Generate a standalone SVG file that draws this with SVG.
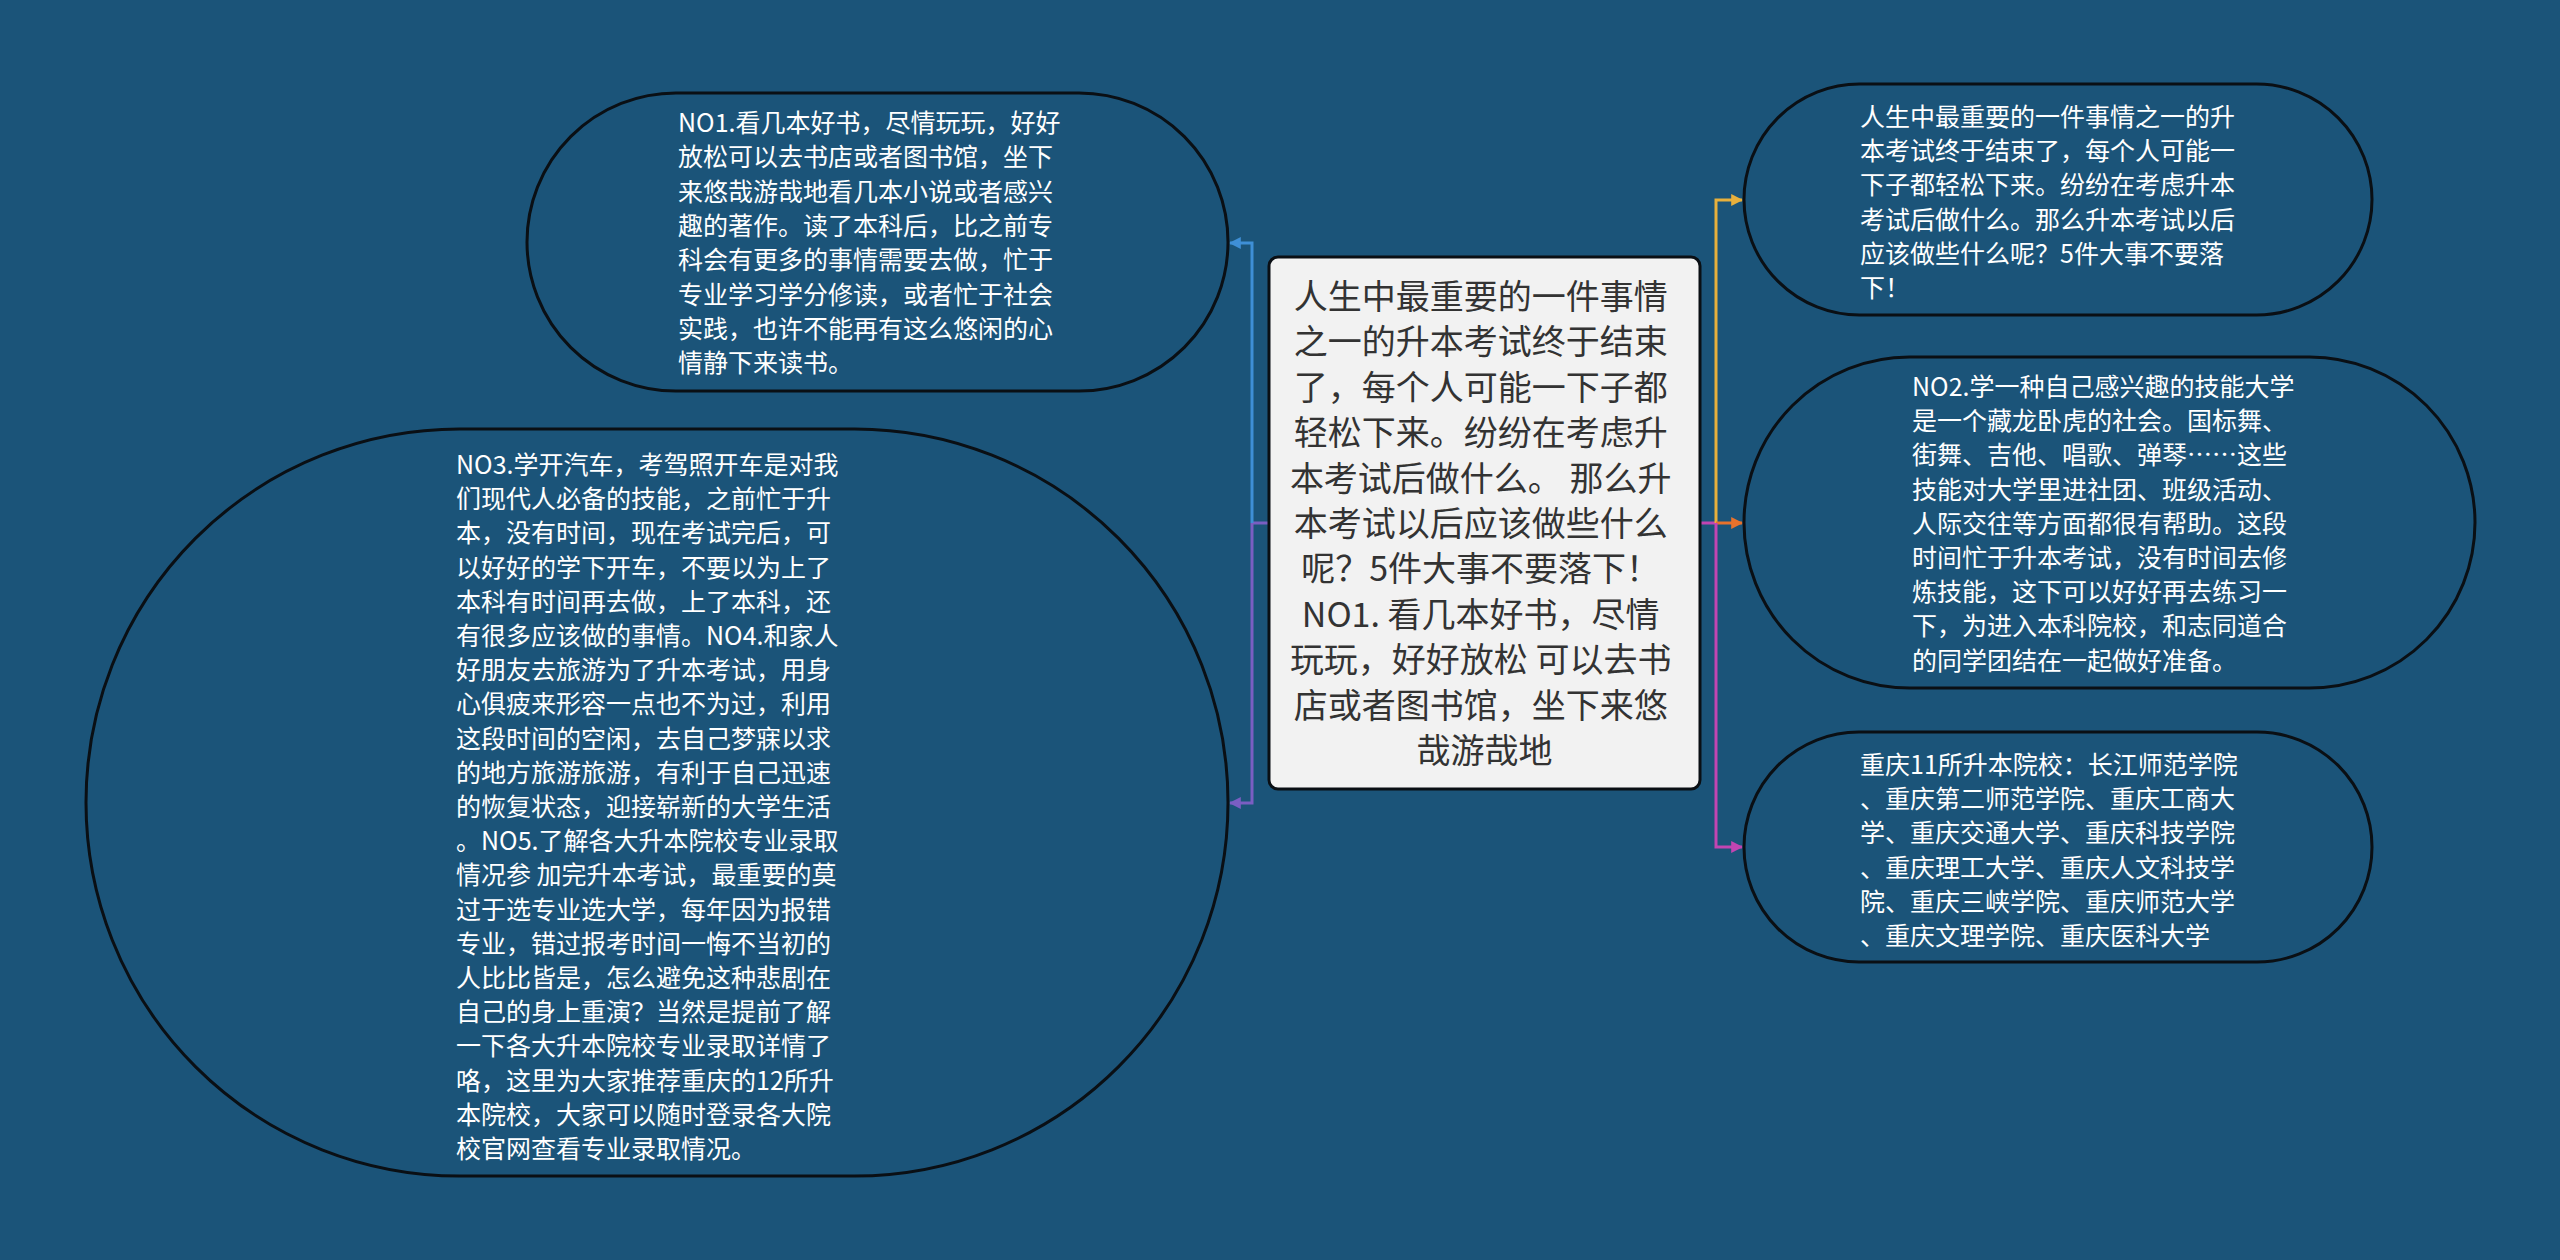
<svg xmlns="http://www.w3.org/2000/svg" width="2560" height="1260" viewBox="0 0 2560 1260">
<defs>
<style>
.bg{fill:#1b5479}
.pill{fill:#1b5479;stroke:#0a0f14;stroke-width:3}
.center{fill:#f2f2f2;stroke:#0a0f14;stroke-width:3}
.t{font-family:"Noto Sans CJK SC","Noto Sans",sans-serif;font-size:25px;fill:#ffffff}
.ct{font-family:"Noto Sans CJK SC","Noto Sans",sans-serif;font-size:34px;fill:#333333;text-anchor:middle}
.c{fill:none;stroke-width:3}
</style>
<marker id="aBlue" viewBox="0 0 10 10" refX="9" refY="5" markerWidth="4" markerHeight="4" orient="auto" markerUnits="strokeWidth"><path d="M0,0 L10,5 L0,10 Z" fill="#3f8fd6"/></marker>
<marker id="aPurple" viewBox="0 0 10 10" refX="9" refY="5" markerWidth="4" markerHeight="4" orient="auto" markerUnits="strokeWidth"><path d="M0,0 L10,5 L0,10 Z" fill="#7a5ec2"/></marker>
<marker id="aGold" viewBox="0 0 10 10" refX="9" refY="5" markerWidth="4" markerHeight="4" orient="auto" markerUnits="strokeWidth"><path d="M0,0 L10,5 L0,10 Z" fill="#e8b03c"/></marker>
<marker id="aOrange" viewBox="0 0 10 10" refX="9" refY="5" markerWidth="4" markerHeight="4" orient="auto" markerUnits="strokeWidth"><path d="M0,0 L10,5 L0,10 Z" fill="#e8722c"/></marker>
<marker id="aMagenta" viewBox="0 0 10 10" refX="9" refY="5" markerWidth="4" markerHeight="4" orient="auto" markerUnits="strokeWidth"><path d="M0,0 L10,5 L0,10 Z" fill="#c245b2"/></marker>
</defs>
<rect class="bg" x="0" y="0" width="2560" height="1260"/>

<g id="connectors">
<path class="c" stroke="#7a5ec2" d="M1269,523 H1252"/>
<path class="c" stroke="#3f8fd6" d="M1252,523 V243 H1230" marker-end="url(#aBlue)"/>
<path class="c" stroke="#7a5ec2" d="M1252,523 V803 H1230" marker-end="url(#aPurple)"/>
<path class="c" stroke="#c245b2" d="M1700,523 H1716"/>
<path class="c" stroke="#e8b03c" d="M1716,523 V200 H1742" marker-end="url(#aGold)"/>
<path class="c" stroke="#e8722c" d="M1716,523 H1742" marker-end="url(#aOrange)"/>
<path class="c" stroke="#c245b2" d="M1716,523 V847 H1742" marker-end="url(#aMagenta)"/>
</g>

<g id="node-center">
<rect class="center" x="1269" y="257" width="431" height="532" rx="9"/>
<text class="ct" x="1484.5" y="309">
<tspan x="1484.5">人生中最重要的一件事情</tspan>
<tspan x="1484.5" dy="45.4">之一的升本考试终于结束</tspan>
<tspan x="1484.5" dy="45.4">了，每个人可能一下子都</tspan>
<tspan x="1484.5" dy="45.4">轻松下来。纷纷在考虑升</tspan>
<tspan x="1484.5" dy="45.4">本考试后做什么。 那么升</tspan>
<tspan x="1484.5" dy="45.4">本考试以后应该做些什么</tspan>
<tspan x="1484.5" dy="45.4">呢？5件大事不要落下！</tspan>
<tspan x="1484.5" dy="45.4">NO1. 看几本好书，尽情</tspan>
<tspan x="1484.5" dy="45.4">玩玩，好好放松 可以去书</tspan>
<tspan x="1484.5" dy="45.4">店或者图书馆，坐下来悠</tspan>
<tspan x="1484.5" dy="45.4">哉游哉地</tspan>
</text>
</g>

<g id="node-no1">
<rect class="pill" x="527" y="93" width="701" height="298" rx="149"/>
<text class="t" x="678" y="132">
<tspan x="678">NO1.看几本好书，尽情玩玩，好好</tspan>
<tspan x="678" dy="34.3">放松可以去书店或者图书馆，坐下</tspan>
<tspan x="678" dy="34.3">来悠哉游哉地看几本小说或者感兴</tspan>
<tspan x="678" dy="34.3">趣的著作。读了本科后，比之前专</tspan>
<tspan x="678" dy="34.3">科会有更多的事情需要去做，忙于</tspan>
<tspan x="678" dy="34.3">专业学习学分修读，或者忙于社会</tspan>
<tspan x="678" dy="34.3">实践，也许不能再有这么悠闲的心</tspan>
<tspan x="678" dy="34.3">情静下来读书。</tspan>
</text>
</g>

<g id="node-no3">
<rect class="pill" x="86" y="429" width="1142" height="747" rx="373.5"/>
<text class="t" x="456" y="474">
<tspan x="456">NO3.学开汽车，考驾照开车是对我</tspan>
<tspan x="456" dy="34.2">们现代人必备的技能，之前忙于升</tspan>
<tspan x="456" dy="34.2">本，没有时间，现在考试完后，可</tspan>
<tspan x="456" dy="34.2">以好好的学下开车，不要以为上了</tspan>
<tspan x="456" dy="34.2">本科有时间再去做，上了本科，还</tspan>
<tspan x="456" dy="34.2">有很多应该做的事情。NO4.和家人</tspan>
<tspan x="456" dy="34.2">好朋友去旅游为了升本考试，用身</tspan>
<tspan x="456" dy="34.2">心俱疲来形容一点也不为过，利用</tspan>
<tspan x="456" dy="34.2">这段时间的空闲，去自己梦寐以求</tspan>
<tspan x="456" dy="34.2">的地方旅游旅游，有利于自己迅速</tspan>
<tspan x="456" dy="34.2">的恢复状态，迎接崭新的大学生活</tspan>
<tspan x="456" dy="34.2">。NO5.了解各大升本院校专业录取</tspan>
<tspan x="456" dy="34.2">情况参 加完升本考试，最重要的莫</tspan>
<tspan x="456" dy="34.2">过于选专业选大学，每年因为报错</tspan>
<tspan x="456" dy="34.2">专业，错过报考时间一悔不当初的</tspan>
<tspan x="456" dy="34.2">人比比皆是，怎么避免这种悲剧在</tspan>
<tspan x="456" dy="34.2">自己的身上重演？当然是提前了解</tspan>
<tspan x="456" dy="34.2">一下各大升本院校专业录取详情了</tspan>
<tspan x="456" dy="34.2">咯，这里为大家推荐重庆的12所升</tspan>
<tspan x="456" dy="34.2">本院校，大家可以随时登录各大院</tspan>
<tspan x="456" dy="34.2">校官网查看专业录取情况。</tspan>
</text>
</g>

<g id="node-intro">
<rect class="pill" x="1744" y="84" width="628" height="231" rx="115.5"/>
<text class="t" x="1860" y="126">
<tspan x="1860">人生中最重要的一件事情之一的升</tspan>
<tspan x="1860" dy="34.2">本考试终于结束了，每个人可能一</tspan>
<tspan x="1860" dy="34.2">下子都轻松下来。纷纷在考虑升本</tspan>
<tspan x="1860" dy="34.2">考试后做什么。那么升本考试以后</tspan>
<tspan x="1860" dy="34.2">应该做些什么呢？5件大事不要落</tspan>
<tspan x="1860" dy="34.2">下！</tspan>
</text>
</g>

<g id="node-no2">
<rect class="pill" x="1744" y="357" width="731" height="331" rx="165.5"/>
<text class="t" x="1912" y="396">
<tspan x="1912">NO2.学一种自己感兴趣的技能大学</tspan>
<tspan x="1912" dy="34.2">是一个藏龙卧虎的社会。国标舞、</tspan>
<tspan x="1912" dy="34.2">街舞、吉他、唱歌、弹琴……这些</tspan>
<tspan x="1912" dy="34.2">技能对大学里进社团、班级活动、</tspan>
<tspan x="1912" dy="34.2">人际交往等方面都很有帮助。这段</tspan>
<tspan x="1912" dy="34.2">时间忙于升本考试，没有时间去修</tspan>
<tspan x="1912" dy="34.2">炼技能，这下可以好好再去练习一</tspan>
<tspan x="1912" dy="34.2">下，为进入本科院校，和志同道合</tspan>
<tspan x="1912" dy="34.2">的同学团结在一起做好准备。</tspan>
</text>
</g>

<g id="node-colleges">
<rect class="pill" x="1744" y="732" width="628" height="230" rx="115"/>
<text class="t" x="1860" y="774">
<tspan x="1860">重庆11所升本院校：长江师范学院</tspan>
<tspan x="1860" dy="34.2">、重庆第二师范学院、重庆工商大</tspan>
<tspan x="1860" dy="34.2">学、重庆交通大学、重庆科技学院</tspan>
<tspan x="1860" dy="34.2">、重庆理工大学、重庆人文科技学</tspan>
<tspan x="1860" dy="34.2">院、重庆三峡学院、重庆师范大学</tspan>
<tspan x="1860" dy="34.2">、重庆文理学院、重庆医科大学</tspan>
</text>
</g>
</svg>
